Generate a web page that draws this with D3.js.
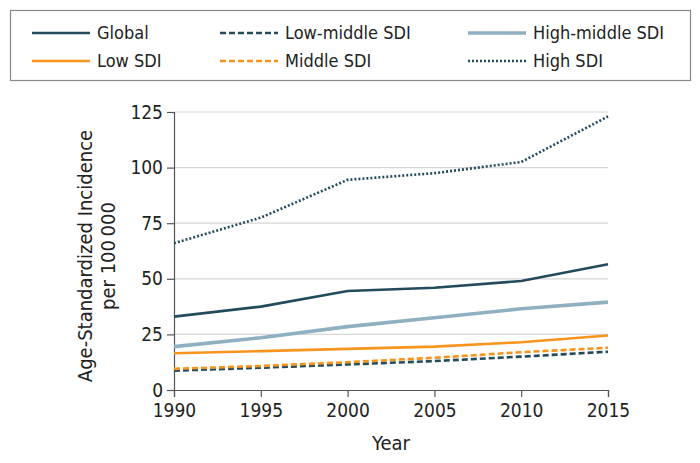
<!DOCTYPE html>
<html><head><meta charset="utf-8">
<script src="https://cdn.jsdelivr.net/npm/d3@7"></script>
<style>body{margin:0;background:#fff}svg{display:block}text{font-family:"DejaVu Sans Condensed","DejaVu Sans",sans-serif;font-stretch:condensed;fill:#222}</style>
</head><body>
<script>
const years = [1990, 1995, 2000, 2005, 2010, 2015];
const global = [33, 37.5, 44.5, 46, 49, 56.5];
const lowSDI = [16.5, 17.5, 18.5, 19.5, 21.5, 24.5];
const lowMiddleSDI = [8.7, 10, 11.5, 13, 15, 17.2];
const middleSDI = [9.5, 10.8, 12.5, 14.5, 17, 19];
const highMiddleSDI = [19.5, 23.5, 28.5, 32.5, 36.5, 39.5];
const highSDI = [66, 77.5, 94.5, 97.5, 102.5, 123];
const yTicks = [0, 25, 50, 75, 100, 125];

const dark = "#234b5b", orange = "#f7941d", light = "#8fb0c1";
const series = [
  {name: "Global", values: global, color: dark, w: 2.6, dash: null},
  {name: "Low SDI", values: lowSDI, color: orange, w: 2.6, dash: null},
  {name: "Low-middle SDI", values: lowMiddleSDI, color: dark, w: 2.6, dash: "6,3"},
  {name: "Middle SDI", values: middleSDI, color: orange, w: 2.6, dash: "6,3"},
  {name: "High-middle SDI", values: highMiddleSDI, color: light, w: 3.6, dash: null},
  {name: "High SDI", values: highSDI, color: dark, w: 2.6, dash: "2,2"}
];

const W = 700, H = 463;
const svg = d3.select("body").append("svg").attr("width", W).attr("height", H);
const x = d3.scaleLinear().domain([1990, 2015]).range([174, 608]);
const y = d3.scaleLinear().domain([0, 125]).range([390, 112]);

svg.append("g").selectAll("line").data(yTicks.filter(d => d > 0)).join("line")
  .attr("x1", 174).attr("x2", 608).attr("y1", d => y(d)).attr("y2", d => y(d))
  .attr("stroke", "#d6d6d6").attr("stroke-width", 1.2);

const yAxis = svg.append("g").attr("transform", "translate(174,0)")
  .call(d3.axisLeft(y).tickValues(yTicks).tickSize(7).tickPadding(4));
const xAxis = svg.append("g").attr("transform", "translate(0,390)")
  .call(d3.axisBottom(x).tickValues(years).tickFormat(d3.format("d")).tickSize(7).tickPadding(7));
[yAxis, xAxis].forEach(a => {
  a.select(".domain").attr("stroke", "#555").attr("stroke-width", 1.2);
  a.selectAll(".tick line").attr("stroke", "#555").attr("stroke-width", 1.2);
  a.selectAll("text").attr("font-size", 19).attr("fill", "#222");
});

const line = d3.line().x((d, i) => x(years[i])).y(d => y(d));
svg.append("g").selectAll("path").data(series).join("path")
  .attr("d", d => line(d.values)).attr("fill", "none")
  .attr("stroke", d => d.color).attr("stroke-width", d => d.w)
  .attr("stroke-dasharray", d => d.dash);

svg.append("text").attr("x", 391).attr("y", 450).attr("text-anchor", "middle")
  .attr("font-size", 20).text("Year");
const yt = svg.append("text").attr("transform", "translate(92,256) rotate(-90)")
  .attr("text-anchor", "middle").attr("font-size", 20);
yt.append("tspan").attr("x", 0).attr("dy", 0).text("Age-Standardized Incidence");
yt.append("tspan").attr("x", 0).attr("dy", 23).text("per 100\u2009000");

svg.append("rect").attr("x", 10.5).attr("y", 10.5).attr("width", 680).attr("height", 70)
  .attr("fill", "#fff").attr("stroke", "#888").attr("stroke-width", 1.2);
const legendOrder = ["Global", "Low-middle SDI", "High-middle SDI", "Low SDI", "Middle SDI", "High SDI"];
const colX = [32, 220, 468], rowY = [33, 61];
legendOrder.forEach((n, i) => {
  const s = series.find(e => e.name === n);
  const cx = colX[i % 3], cy = rowY[Math.floor(i / 3)];
  svg.append("line").attr("x1", cx).attr("x2", cx + 58).attr("y1", cy).attr("y2", cy)
    .attr("stroke", s.color).attr("stroke-width", s.w).attr("stroke-dasharray", s.dash);
  svg.append("text").attr("x", cx + 65).attr("y", cy + 6).attr("font-size", 18).text(n);
});
</script>
</body></html>
